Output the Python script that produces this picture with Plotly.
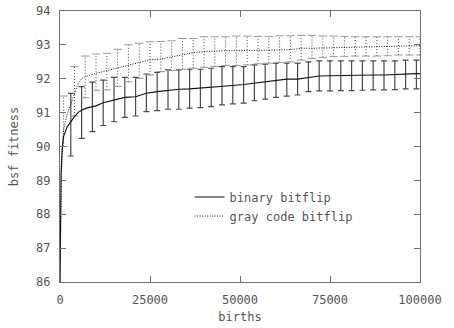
import plotly.graph_objects as go

# ---- data ----
binary_births = [0, 100, 300, 600, 1000, 2000, 3000, 4000, 5000, 6000, 7500, 9000, 10000,
                 12000, 15000, 18000, 21000, 24000, 27000, 30000, 33000, 36000, 39000, 42000,
                 45000, 48000, 51000, 54000, 57000, 60000, 63000, 66000, 69000, 72000, 75000,
                 78000, 81000, 84000, 87000, 90000, 93000, 96000, 99000, 100000]
binary_fitness = [86.0, 87.6, 89.2, 89.9, 90.3, 90.58, 90.75, 90.88, 91.0, 91.07, 91.14, 91.17, 91.2,
                  91.29, 91.37, 91.45, 91.47, 91.57, 91.62, 91.66, 91.69, 91.7, 91.72, 91.76,
                  91.77, 91.8, 91.83, 91.87, 91.92, 91.94, 91.99, 91.99, 92.03, 92.08, 92.09,
                  92.1, 92.1, 92.11, 92.11, 92.11, 92.13, 92.15, 92.15, 92.15]

binary_bar_births = [3000, 6000, 9000, 12000, 15000, 18000, 21000, 24000, 27000, 30000, 33000,
                     36000, 39000, 42000, 45000, 48000, 51000, 54000, 57000, 60000, 63000, 66000,
                     69000, 72000, 75000, 78000, 81000, 84000, 87000, 90000, 93000, 96000, 99000]
binary_bar_high = [91.57, 91.77, 91.9, 91.96, 92.04, 92.04, 92.04, 92.14, 92.19, 92.26, 92.26,
                   92.28, 92.28, 92.31, 92.36, 92.36, 92.36, 92.41, 92.43, 92.46, 92.46, 92.46,
                   92.5, 92.53, 92.53, 92.53, 92.53, 92.53, 92.53, 92.53, 92.53, 92.55, 92.55]
binary_bar_low = [89.72, 90.24, 90.44, 90.62, 90.73, 90.86, 90.9, 91.03, 91.06, 91.1, 91.1,
                  91.13, 91.15, 91.18, 91.23, 91.26, 91.28, 91.35, 91.4, 91.45, 91.49, 91.52,
                  91.62, 91.64, 91.64, 91.65, 91.65, 91.66, 91.67, 91.67, 91.68, 91.7, 91.7]

gray_births = [0, 150, 400, 700, 1000, 2000, 3000, 4000, 5000, 6000, 7000, 10000, 13000, 16000,
               19000, 22000, 25000, 28000, 31000, 34000, 37000, 40000, 43000, 46000, 49000,
               52000, 55000, 58000, 61000, 64000, 67000, 70000, 73000, 76000, 79000, 82000,
               85000, 88000, 91000, 94000, 97000, 100000]
gray_fitness = [86.0, 87.5, 89.2, 90.1, 90.5, 90.95, 91.25, 91.55, 91.85, 92.0, 92.06, 92.16, 92.24,
                92.32, 92.42, 92.49, 92.56, 92.58, 92.65, 92.72, 92.77, 92.8, 92.82, 92.83, 92.83,
                92.83, 92.84, 92.85, 92.85, 92.86, 92.9, 92.9, 92.91, 92.92, 92.92, 92.92,
                92.93, 92.96, 92.97, 92.97, 92.97, 92.97]

gray_bar_births = [1000, 4000, 7000, 10000, 13000, 16000, 19000, 22000, 25000, 28000, 31000,
                   34000, 37000, 40000, 43000, 46000, 49000, 52000, 55000, 58000, 61000, 64000,
                   67000, 70000, 73000, 76000, 79000, 82000, 85000, 88000, 91000, 94000, 97000,
                   100000]
gray_bar_high = [91.49, 92.36, 92.67, 92.73, 92.75, 92.87, 93.0, 93.05, 93.09, 93.1, 93.12,
                 93.19, 93.19, 93.24, 93.24, 93.24, 93.26, 93.26, 93.25, 93.25, 93.27, 93.27,
                 93.28, 93.28, 93.26, 93.26, 93.25, 93.24, 93.24, 93.24, 93.24, 93.24, 93.24,
                 93.24]
gray_bar_low = [90.0, 90.9, 91.44, 91.66, 91.67, 91.77, 91.91, 92.01, 92.11, 92.21, 92.24,
                92.28, 92.31, 92.34, 92.36, 92.39, 92.39, 92.41, 92.44, 92.46, 92.48, 92.5,
                92.55, 92.6, 92.63, 92.65, 92.66, 92.67, 92.67, 92.67, 92.68, 92.7, 92.7,
                92.7]

x_ticks = [0, 25000, 50000, 75000, 100000]
y_ticks = [86, 87, 88, 89, 90, 91, 92, 93, 94]

FONT = "DejaVu Sans Mono"
TXT = "#555555"
FRAME = "#707070"

fig = go.Figure()

# binary error bars (solid)
b_mid = [(h + l) / 2 for h, l in zip(binary_bar_high, binary_bar_low)]
b_err = [(h - l) / 2 for h, l in zip(binary_bar_high, binary_bar_low)]
fig.add_trace(go.Scatter(
    x=binary_bar_births, y=b_mid, mode="markers", marker=dict(size=0.1, color="rgba(0,0,0,0)"),
    error_y=dict(type="data", array=b_err, symmetric=True, width=3, thickness=1.2, color="#4a4a4a"),
    showlegend=False, hoverinfo="skip"))

# gray error bars (dotted)
gx, gy = [], []
for b, h, l in zip(gray_bar_births, gray_bar_high, gray_bar_low):
    gx += [b, b, None]
    gy += [l, h, None]
fig.add_trace(go.Scatter(x=gx, y=gy, mode="lines",
                         line=dict(color="#444444", width=1, dash="1px,2px"),
                         showlegend=False, hoverinfo="skip"))
fig.add_trace(go.Scatter(
    x=gray_bar_births + gray_bar_births, y=gray_bar_high + gray_bar_low, mode="markers",
    marker=dict(symbol="line-ew", size=6, line=dict(color="#999999", width=1)),
    showlegend=False, hoverinfo="skip"))

# lines
fig.add_trace(go.Scatter(x=binary_births, y=binary_fitness, mode="lines",
                         name="binary bitflip", line=dict(color="#111111", width=1.1)))
fig.add_trace(go.Scatter(x=gray_births, y=gray_fitness, mode="lines",
                         name="gray code bitflip",
                         line=dict(color="#111111", width=1, dash="1px,1.5px")))

axis_common = dict(showgrid=False, zeroline=False, showline=True, linecolor=FRAME,
                   linewidth=1.2, mirror="ticks", ticks="inside", ticklen=6,
                   tickcolor=FRAME, tickwidth=1, ticklabelstandoff=6, automargin=False,
                   tickfont=dict(family=FONT, size=12, color=TXT))

fig.update_xaxes(range=[0, 100000], tickvals=x_ticks, ticktext=[str(v) for v in x_ticks],
                 title=dict(text="births", font=dict(family=FONT, size=12, color=TXT), standoff=7),
                 **axis_common)
fig.update_yaxes(range=[86, 94], tickvals=y_ticks, ticktext=[str(v) for v in y_ticks],
                 title=dict(text="bsf fitness", font=dict(family=FONT, size=12, color=TXT), standoff=14),
                 **axis_common)

fig.update_layout(
    width=454, height=328,
    margin=dict(l=60, r=34, t=11, b=46),
    paper_bgcolor="white", plot_bgcolor="white",
    legend=dict(x=0.36, y=0.367, xanchor="left", yanchor="top",
                bgcolor="rgba(0,0,0,0)", font=dict(family=FONT, size=12, color=TXT),
                tracegroupgap=0, itemwidth=30),
    showlegend=True,
)

fig.write_html("out.html")
